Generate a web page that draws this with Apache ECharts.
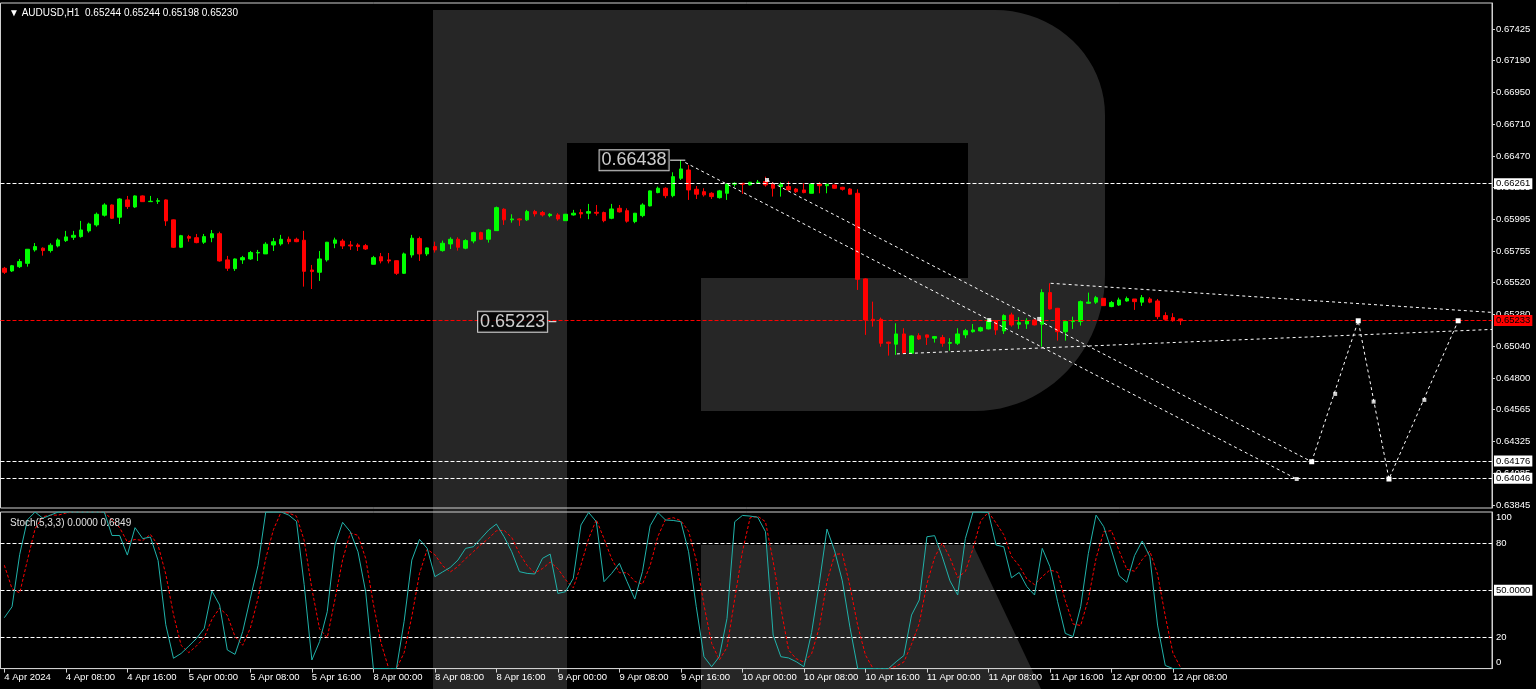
<!DOCTYPE html>
<html><head><meta charset="utf-8">
<script src="https://cdn.jsdelivr.net/npm/echarts@6/dist/echarts.min.js"></script>
<style>html,body{margin:0;padding:0;background:#000;overflow:hidden}#c{width:1536px;height:689px}</style>
</head><body><div id="c"></div>
<script>
// ---------- DATA ----------
const tickLabels = ['4 Apr 2024','4 Apr 08:00','4 Apr 16:00','5 Apr 00:00','5 Apr 08:00','5 Apr 16:00','8 Apr 00:00','8 Apr 08:00','8 Apr 16:00','9 Apr 00:00','9 Apr 08:00','9 Apr 16:00','10 Apr 00:00','10 Apr 08:00','10 Apr 16:00','11 Apr 00:00','11 Apr 08:00','11 Apr 16:00','12 Apr 00:00','12 Apr 08:00'];
const tradingDays = ['4 Apr','5 Apr','8 Apr','9 Apr','10 Apr','11 Apr','12 Apr'];
const totalSlots = 194;

const openP = [0.65625,0.65605,0.65637,0.65662,0.65763,0.65776,0.65758,0.65793,0.65833,0.65858,
0.65863,0.65906,0.65951,0.66024,0.66101,0.66009,0.66139,0.66086,0.66169,0.66126,
0.66129,0.66139,0.65989,0.65783,0.65863,0.65855,0.65821,0.65855,0.65885,0.65688,
0.65622,0.65688,0.65695,0.65740,0.65733,0.65800,0.65808,0.65843,0.65843,0.65836,
0.65612,0.65595,0.65688,0.65813,0.65830,0.65800,0.65800,0.65795,0.65655,0.65712,
0.65688,0.65682,0.65587,0.65725,0.65848,0.65733,0.65788,0.65758,0.65808,0.65843,
0.65776,0.65830,0.65893,0.65843,0.65908,0.66069,0.65989,0.65996,0.65989,0.66051,
0.66044,0.66021,0.66026,0.65983,0.66026,0.66044,0.66039,0.66046,0.66044,0.66001,
0.66076,0.66058,0.65976,0.66021,0.66094,0.66194,0.66227,0.66171,0.66302,0.66364,
0.66219,0.66201,0.66189,0.66156,0.66189,0.66257,0.66264,0.66252,0.66264,0.66277,
0.66257,0.66239,0.66239,0.66221,0.66214,0.66189,0.66259,0.66246,0.66252,0.66234,
0.66221,0.66189,0.65545,0.65241,0.65241,0.65069,0.65054,0.65131,0.64986,0.65118,
0.65124,0.65099,0.65104,0.65061,0.65061,0.65124,0.65148,0.65154,0.65169,0.65231,
0.65154,0.65274,0.65204,0.65206,0.65236,0.65204,0.65442,0.65324,0.65148,0.65224,
0.65224,0.65362,0.65370,0.65399,0.65337,0.65349,0.65379,0.65394,0.65370,0.65394,
0.65379,0.65269,0.65254,0.65244];
const closeP = [0.65595,0.65644,0.65675,0.65768,0.65788,0.65758,0.65798,0.65838,0.65861,0.65873,
0.65913,0.65958,0.66031,0.66101,0.66001,0.66146,0.66089,0.66169,0.66126,0.66129,
0.66133,0.65981,0.65783,0.65870,0.65851,0.65818,0.65863,0.65885,0.65680,0.65625,
0.65695,0.65705,0.65743,0.65744,0.65806,0.65825,0.65843,0.65825,0.65825,0.65602,
0.65600,0.65695,0.65821,0.65838,0.65793,0.65793,0.65788,0.65770,0.65705,0.65680,
0.65680,0.65587,0.65733,0.65851,0.65733,0.65778,0.65763,0.65813,0.65843,0.65783,
0.65833,0.65893,0.65843,0.65913,0.66081,0.65989,0.65996,0.65989,0.66051,0.66034,
0.66026,0.66031,0.65996,0.66031,0.66039,0.66034,0.66051,0.66039,0.65983,0.66071,
0.66049,0.65979,0.66039,0.66101,0.66207,0.66227,0.66171,0.66314,0.66372,0.66214,
0.66182,0.66177,0.66164,0.66207,0.66257,0.66264,0.66257,0.66272,0.66272,0.66252,
0.66227,0.66257,0.66214,0.66201,0.66194,0.66259,0.66246,0.66257,0.66227,0.66219,
0.66182,0.65542,0.65236,0.65231,0.65061,0.65061,0.65131,0.64986,0.65116,0.65093,
0.65106,0.65111,0.65061,0.65066,0.65131,0.65156,0.65161,0.65178,0.65236,0.65161,
0.65269,0.65199,0.65216,0.65231,0.65199,0.65442,0.65319,0.65148,0.65224,0.65231,
0.65374,0.65370,0.65404,0.65344,0.65367,0.65387,0.65397,0.65374,0.65404,0.65370,
0.65261,0.65241,0.65231,0.65230];
const lowP = [0.65582,0.65597,0.65627,0.65637,0.65750,0.65720,0.65743,0.65782,0.65823,0.65838,
0.65855,0.65893,0.65938,0.66014,0.65996,0.65958,0.66071,0.66079,0.66124,0.66124,
0.66109,0.65944,0.65778,0.65778,0.65825,0.65813,0.65808,0.65821,0.65675,0.65605,
0.65605,0.65658,0.65688,0.65680,0.65733,0.65755,0.65795,0.65806,0.65821,0.65487,
0.65469,0.65530,0.65675,0.65776,0.65770,0.65763,0.65755,0.65763,0.65654,0.65662,
0.65662,0.65575,0.65582,0.65705,0.65680,0.65718,0.65743,0.65750,0.65770,0.65758,
0.65768,0.65813,0.65838,0.65818,0.65906,0.65951,0.65968,0.65944,0.65981,0.66014,
0.66014,0.66009,0.65983,0.65981,0.66021,0.66001,0.65994,0.66021,0.65971,0.65994,
0.66044,0.65968,0.65964,0.66009,0.66090,0.66189,0.66152,0.66159,0.66289,0.66139,
0.66146,0.66164,0.66146,0.66149,0.66139,0.66239,0.66184,0.66248,0.66259,0.66239,
0.66164,0.66164,0.66209,0.66191,0.66189,0.66188,0.66189,0.66189,0.66224,0.66209,
0.66180,0.65462,0.65124,0.65186,0.65035,0.64968,0.64973,0.64981,0.64981,0.65086,
0.65048,0.65066,0.65035,0.65005,0.65048,0.65099,0.65141,0.65148,0.65165,0.65124,
0.65131,0.65186,0.65169,0.65169,0.65195,0.65035,0.65315,0.65081,0.65081,0.65169,
0.65194,0.65357,0.65357,0.65342,0.65332,0.65342,0.65374,0.65312,0.65342,0.65362,
0.65242,0.65236,0.65224,0.65198];
const highP = [0.65635,0.65650,0.65695,0.65770,0.65815,0.65782,0.65813,0.65850,0.65906,0.65906,
0.65981,0.65968,0.66044,0.66114,0.66105,0.66152,0.66169,0.66173,0.66173,0.66169,
0.66152,0.66143,0.65992,0.65876,0.65876,0.65883,0.65883,0.65913,0.65900,0.65718,
0.65699,0.65718,0.65755,0.65763,0.65821,0.65853,0.65876,0.65863,0.65855,0.65906,
0.65650,0.65755,0.65823,0.65855,0.65846,0.65830,0.65813,0.65808,0.65718,0.65740,
0.65740,0.65684,0.65743,0.65876,0.65863,0.65782,0.65825,0.65833,0.65858,0.65858,
0.65843,0.65900,0.65900,0.65921,0.66089,0.66076,0.66031,0.66001,0.66064,0.66064,
0.66056,0.66039,0.66039,0.66034,0.66064,0.66069,0.66109,0.66101,0.66051,0.66109,
0.66101,0.66076,0.66041,0.66114,0.66210,0.66239,0.66234,0.66347,0.66438,0.66402,
0.66244,0.66227,0.66197,0.66214,0.66264,0.66272,0.66267,0.66274,0.66289,0.66314,
0.66272,0.66272,0.66277,0.66229,0.66264,0.66263,0.66272,0.66259,0.66254,0.66237,
0.66227,0.66219,0.65549,0.65374,0.65254,0.65073,0.65211,0.65174,0.65120,0.65136,
0.65126,0.65116,0.65124,0.65099,0.65174,0.65169,0.65206,0.65186,0.65244,0.65236,
0.65279,0.65291,0.65257,0.65249,0.65240,0.65467,0.65512,0.65327,0.65225,0.65261,
0.65382,0.65442,0.65417,0.65402,0.65379,0.65404,0.65412,0.65394,0.65424,0.65407,
0.65394,0.65294,0.65287,0.65244];

const stochMain = [32.5,39.5,73,95,100,96,98,100,100,100,
100,100,100,100,85,85,72.5,90,83,84,
69,28,6.6,9.7,14.4,19.3,25.7,49.5,40.6,11.9,
9.1,23.6,45,66,100,100,100,98,94,53.6,
5.5,17.2,36.3,78.9,93.4,87.4,74.6,49,0,0,
0,0,30.2,69.3,82.5,76.8,58.7,61.7,64.6,69.3,
76.8,77.8,83.1,88.5,92.3,84.2,74.6,61.9,60.8,60.4,
70.4,73.1,48,49.1,57.6,91.7,99.7,93.8,55.5,60.8,
67.2,55.5,44.4,61.9,91.2,99.7,94.9,94.6,93.8,74.6,
39.5,7.6,1.2,7.6,32.1,93.8,97.8,97.4,96.6,87.4,
21.4,7.6,6.8,4.4,1.2,23,54.4,89.1,75.1,56,
26.1,0,0,0,0,0,4.4,8.3,34.2,43.8,
84.2,84.9,71.4,56,47,83.1,100,100,99.7,78.9,
77.8,58,61.4,52.3,47,76.8,65.1,42.7,22.5,20.4,
39.5,73.6,98,90.6,75.7,59.3,55.1,72.1,81.5,71.4,
27.8,2,0,0];
const stochSignal = [66,51,48.3,69.2,89.3,97,98,98,99.3,100,
100,100,100,100,95,90,80.8,82.5,81.8,85.7,
78.7,60.3,34.5,14.8,10.2,14.5,19.8,31.5,38.6,34,
20.5,14.9,25.9,44.9,70.3,88.7,100,99.3,97.3,81.9,
51,25.4,19.7,44.1,69.5,86.6,85.1,70.3,41.2,16.3,
0,0,10.1,33.2,60.7,76.2,72.7,65.7,61.7,65.2,
70.2,74.6,79.2,83.1,88,88.3,83.7,73.6,65.8,61,
63.9,68,63.8,56.7,51.6,66.1,83,95.1,83,70,
61.2,61.2,55.7,53.9,65.8,84.3,95.3,96.4,94.4,87.7,
69.3,40.6,16.1,5.5,13.6,44.5,74.6,96.3,97.3,93.8,
68.5,38.8,11.9,6.3,4.1,9.5,26.2,55.5,72.9,73.4,
52.4,27.4,8.7,0,0,0,1.5,4.2,15.6,28.8,
54.1,71,80.2,70.8,58.1,62,76.7,94.4,99.9,92.9,
85.5,71.6,65.7,57.2,53.6,58.7,63,61.5,43.4,28.5,
27.5,44.5,70.4,87.4,88.1,75.2,63.4,62.2,69.6,75,
60.2,33.7,9.9,0.68];

const priceTicks = [0.67425,0.67190,0.66950,0.66710,0.66470,0.66235,0.65995,0.65755,0.65520,0.65280,0.65040,0.64800,0.64565,0.64325,0.64085,0.63845];
const stochLevels = [20,50,80];
const hLevels = [0.66261,0.64176,0.64046];
const bidLevel = 0.65233;
const header = 'AUDUSD,H1  0.65244 0.65244 0.65198 0.65230';
const stochHeader = 'Stoch(5,3,3) 0.0000 0.6849';

// drawn objects (x in bar index, y in price)
const channelLower = [[88.57,0.66420],[168.1,0.64040]];
const channelUpper = [[99.2,0.66289],[170.05,0.64170]];
const triangleUpper = [[136.1,0.65512],[193.5,0.65293]];
const triangleLower = [[116.1,0.64981],[193.5,0.65165]];
const forecastPath = [[170.05,0.64170],[176.1,0.65230],[180.1,0.64040],[189.1,0.65230]];
const forecastArrows = [[173.1,0.64680],[178.1,0.64622],[184.7,0.64635]];
const anchorMarks = [[99.2,0.66289],[128.1,0.65236],[134.6,0.65244],[168.1,0.64040]];
const calloutText = ['0.66438','0.65223'];
const calloutAt = [[88.57,0.66438],[71.8,0.65223]];
const calloutFrom = [86.6,70.8];

// ---------- BUILD ----------
const categories = [];
for (let s = 0; s < totalSlots; s++) {
  const d = Math.floor(s / 24);
  categories.push(d < tradingDays.length ? tradingDays[d] + ' ' + String(s % 24).padStart(2,'0') + ':00' : 'f' + s);
}
const candles = openP.map((o, i) => [o, closeP[i], lowP[i], highP[i]]);
const FONT = 'Liberation Sans';
const WHITE = '#ffffff';
const AX = '#d0d0d0';

const isTick = (idx) => idx % 8 === 0 && idx / 8 < tickLabels.length;

// watermark shape
function arc(cx, cy, rx, ry, a0, a1, n) {
  const pts = [];
  for (let k = 0; k <= n; k++) {
    const a = (a0 + (a1 - a0) * k / n) * Math.PI / 180;
    pts.push([cx + rx * Math.cos(a), cy + ry * Math.sin(a)]);
  }
  return pts;
}
const bowl = [[567,10]].concat(arc(995,115,110,105,-90,0,20)).concat(arc(975,275,130,136,0,90,24)).concat([[701,411],[701,278],[968,278],[968,143],[567,143]]);
const WM = '#262626';

const chart = echarts.init(document.getElementById('c'), null, {renderer:'canvas', width:1536, height:689});

const dashW = {color: WHITE, type: [4,2], width: 1};
const boxLabel = (txt, bg) => ({show:true, position:'end', distance:2, formatter:txt, backgroundColor:bg, color:'#000', fontSize:9.5, fontFamily:FONT, padding:[1,2,0,2]});

const calloutSeries = [];
calloutAt.forEach((p, k) => {
  calloutSeries.push({type:'line', xAxisIndex:1, yAxisIndex:0, silent:true, z:6, symbol:'none',
    data:[[calloutFrom[k], p[1]], p], lineStyle:{color:WHITE, width:1}});
  calloutSeries.push({type:'scatter', xAxisIndex:1, yAxisIndex:0, silent:true, z:7,
    data:[p], symbol:'circle', symbolSize:1, itemStyle:{color:'rgba(0,0,0,0)'},
    label:{show:true, position:'left', distance: (p[0] - calloutFrom[k]) * 7.69 + 1, formatter:calloutText[k],
      color:WHITE, fontSize:18, fontFamily:FONT, borderColor:WHITE, borderWidth:1, backgroundColor:'#000', padding:[2,2,0,2]}});
});

const option = {
  animation: false,
  backgroundColor: '#000',
  graphic: [
    {type:'rect', z:-10, silent:true, shape:{x:433,y:10,width:134,height:679}, style:{fill:WM}},
    {type:'polygon', z:-10, silent:true, shape:{points:bowl}, style:{fill:WM}},
    {type:'polygon', z:-10, silent:true, shape:{points:[[701,545],[973,545],[1041,689],[701,689]]}, style:{fill:WM}}
  ],
  title: [
    {text: '\u25BC ' + header, left: 4, top: 3, textStyle:{color:WHITE, fontSize:10, fontWeight:'normal', fontFamily:FONT}},
    {text: stochHeader, left: 5, top: 513, textStyle:{color:'#e0e0e0', fontSize:10, fontWeight:'normal', fontFamily:FONT}}
  ],
  grid: [
    {left:0.5, right:44, top:3, height:505, show:true, borderColor:AX, borderWidth:1, backgroundColor:'transparent'},
    {left:0.5, right:44, top:512, height:156.6, show:true, borderColor:AX, borderWidth:1, backgroundColor:'transparent'}
  ],
  xAxis: [
    {type:'category', gridIndex:0, data:categories, boundaryGap:true, show:false},
    {type:'value', gridIndex:0, min:-0.5, max:totalSlots-0.5, show:false},
    {type:'category', gridIndex:1, data:categories, boundaryGap:true,
      axisLine:{show:true, onZero:false, lineStyle:{color:AX, width:1}},
      axisTick:{show:true, alignWithLabel:true, interval:(idx)=>isTick(idx), length:4, lineStyle:{color:AX}},
      axisLabel:{show:true, interval:(idx)=>isTick(idx), formatter:(v, idx)=> isTick(idx) ? tickLabels[idx/8] : '', color:WHITE, fontSize:9.5, fontFamily:FONT, align:'left', margin:4},
      splitLine:{show:false}}
  ],
  yAxis: [
    {type:'value', gridIndex:0, position:'right', min:0.63822, max:0.67620,
      axisLine:{show:true, onZero:false, lineStyle:{color:AX}},
      axisTick:{show:true, inside:false, customValues:priceTicks, length:3, lineStyle:{color:AX}},
      axisLabel:{show:true, customValues:priceTicks, formatter:(v)=>v.toFixed(5), color:WHITE, fontSize:9.5, fontFamily:FONT, margin:4},
      splitLine:{show:false}},
    {type:'value', gridIndex:1, position:'right', min:0, max:100,
      axisLine:{show:true, onZero:false, lineStyle:{color:AX}},
      axisTick:{show:false},
      // label anchors sit just inside the pane edges, as the terminal draws them
      axisLabel:{show:true, customValues:[4,20,80,96.3], formatter:(v)=> v > 90 ? '100' : (v < 10 ? '0' : String(v)), color:WHITE, fontSize:9.5, fontFamily:FONT, margin:4},
      splitLine:{show:false}}
  ],
  series: [
    {type:'candlestick', name:'AUDUSD', xAxisIndex:0, yAxisIndex:0, data:candles, barWidth:4, z:3,
      itemStyle:{color:'#00ff00', color0:'#ff0000', borderColor:'#00ff00', borderColor0:'#ff0000', borderWidth:1},
      markLine:{silent:true, symbol:'none', precision:5, z:4,
        data: hLevels.map(v => ({yAxis:v, lineStyle:dashW, label:boxLabel(v.toFixed(5), WHITE)}))
          .concat([{yAxis:bidLevel, lineStyle:{color:'#ff0000', type:[4,2], width:1}, label:boxLabel(bidLevel.toFixed(5), '#ff0000')}])
      }},
    {type:'line', xAxisIndex:1, yAxisIndex:0, data:channelLower, symbol:'none', silent:true, lineStyle:{color:WHITE, type:[3,3], width:1}, z:4},
    {type:'line', xAxisIndex:1, yAxisIndex:0, data:channelUpper, symbol:'none', silent:true, lineStyle:{color:WHITE, type:[3,3], width:1}, z:4},
    {type:'line', xAxisIndex:1, yAxisIndex:0, data:triangleUpper, symbol:'none', silent:true, lineStyle:{color:WHITE, type:[3,3], width:1}, z:4},
    {type:'line', xAxisIndex:1, yAxisIndex:0, data:triangleLower, symbol:'none', silent:true, lineStyle:{color:WHITE, type:[3,3], width:1}, z:4},
    {type:'line', xAxisIndex:1, yAxisIndex:0, data:forecastPath, symbol:'rect', symbolSize:5, showSymbol:true, silent:true, itemStyle:{color:WHITE}, lineStyle:{color:WHITE, type:[3,3], width:1}, z:4},
    {type:'scatter', xAxisIndex:1, yAxisIndex:0, data:forecastArrows.concat(anchorMarks), symbol:'rect', symbolSize:4, silent:true, itemStyle:{color:WHITE}, z:5},
    ...calloutSeries,
    {type:'line', name:'Main', xAxisIndex:2, yAxisIndex:1, data:stochMain, symbol:'none', silent:true, lineStyle:{color:'#20b2aa', width:1}, z:4,
      markLine:{silent:true, symbol:'none', z:3,
        data: stochLevels.map(v => ({yAxis:v, lineStyle:dashW, label: v === 50 ? boxLabel(v.toFixed(4), WHITE) : {show:false}}))}},
    {type:'line', name:'Signal', xAxisIndex:2, yAxisIndex:1, data:stochSignal, symbol:'none', silent:true, lineStyle:{color:'#ff0000', width:1, type:[3,2]}, z:3}
  ]
};
chart.setOption(option);
</script>
</body></html>
